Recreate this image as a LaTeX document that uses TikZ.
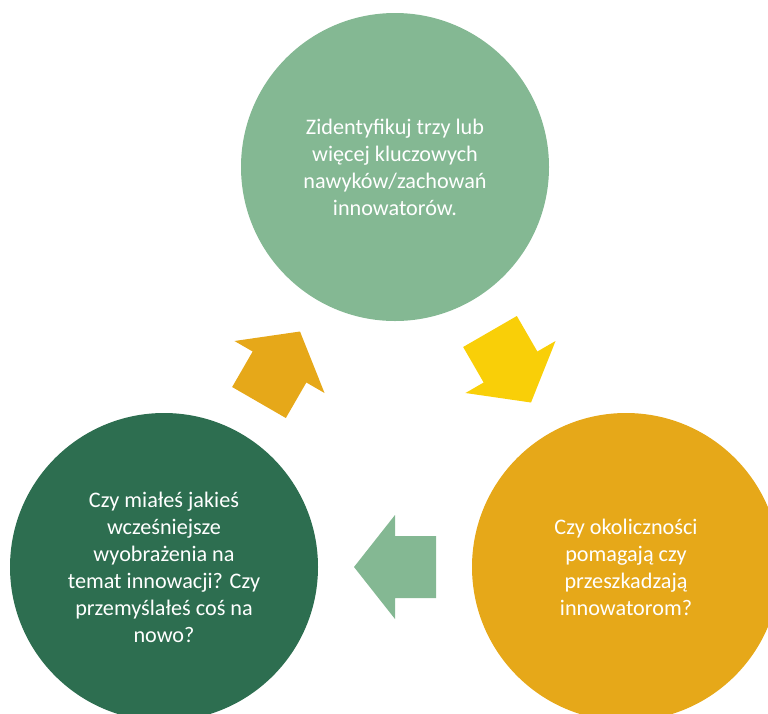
\documentclass[tikz,border=0pt]{standalone}
\usepackage{fontspec}
\setmainfont{Carlito}
\usetikzlibrary{calc}
\definecolor{lgreen}{HTML}{84B893}
\definecolor{dgreen}{HTML}{2D6E50}
\definecolor{gold}{HTML}{E6A819}
\definecolor{yell}{HTML}{F9CF08}
\tikzset{
  bubble/.style={circle, minimum size=308pt, inner sep=0pt, text=white, align=center,
    font=\fontsize{22.2}{27}\selectfont},
}
\newcommand{\blockarrow}{(41,0) -- (0,52) -- (0,31) -- (-41,31) -- (-41,-31) -- (0,-31) -- (0,-52) -- cycle}
\begin{document}
\begin{tikzpicture}[x=1pt,y=-1pt]
\useasboundingbox (0,0) rectangle (768,713);
\node[bubble, fill=lgreen] (top) at (395,167) {Zidentyfikuj trzy lub\\więcej kluczowych\\nawyków/zachowań\\innowatorów.};
\node[bubble, fill=gold] (right) at (626,567) {Czy okoliczności\\pomagają czy\\przeszkadzają\\innowatorom?};
\node[bubble, fill=dgreen] (left) at (164,567) {Czy miałeś jakieś\\wcześniejsze\\wyobrażenia na\\temat innowacji? Czy\\przemyślałeś coś na\\nowo?};
\coordinate (a1) at ($(top)!0.5!(right)$);
\coordinate (a2) at ($(right)!0.5!(left)$);
\coordinate (a3) at ($(left)!0.5!(top)$);
\fill[yell, shift={(a1)}, rotate=-60] \blockarrow;
\fill[lgreen, shift={(a2)}, rotate=180] \blockarrow;
\fill[gold, shift={(a3)}, rotate=60] \blockarrow;
\end{tikzpicture}
\end{document}
